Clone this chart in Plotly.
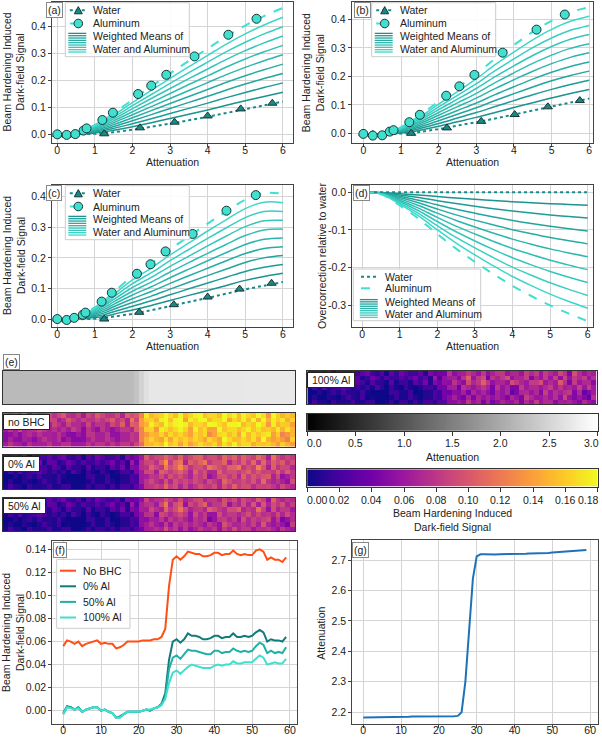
import numpy as np
import plotly.graph_objects as go

W, H = 602, 738
def px(x): return x / W
def py(y): return 1 - y / H

FONT = "Liberation Sans, Arial, sans-serif"
FS = 10.5
WATER_C = "#178a87"
AL_C = "#40e0d0"
MARK_LINE = "#1b3535"

# ---------------- data: panels (a)-(c) ----------------
X_CURVE = [0, 0.25, 0.5, 0.75, 1, 1.25, 1.5, 2, 2.5, 3, 3.5, 4, 4.5, 5, 5.5, 6]
WEIGHTS = [0.1, 0.2, 0.3, 0.4, 0.5, 0.6, 0.7, 0.8, 0.9]

A_WATER_CURVE = [0, -0.001, 0, 0.001, 0.002, 0.004, 0.008, 0.017, 0.028, 0.040, 0.052, 0.065, 0.079, 0.093, 0.107, 0.121]
A_AL_CURVE = [0, -0.003, 0.002, 0.018, 0.035, 0.055, 0.078, 0.128, 0.177, 0.225, 0.272, 0.317, 0.362, 0.402, 0.437, 0.467]
A_WATER_X = [0, 0.25, 1.25, 2.2, 3.12, 4.0, 4.88, 5.72]
A_WATER_Y = [0, -0.003, 0.002, 0.024, 0.045, 0.068, 0.094, 0.115]
A_AL_X = [0, 0.25, 0.48, 0.7, 0.78, 1.2, 1.48, 2.15, 2.5, 2.9, 3.65, 4.55, 5.3]
A_AL_Y = [0, -0.002, 0.001, 0.014, 0.022, 0.053, 0.080, 0.149, 0.180, 0.220, 0.288, 0.368, 0.427]

B_WATER_CURVE = [0, -0.003, -0.003, -0.002, -0.001, 0.001, 0.005, 0.015, 0.027, 0.039, 0.052, 0.066, 0.080, 0.094, 0.108, 0.122]
B_AL_CURVE = [0, -0.006, -0.006, 0.004, 0.022, 0.040, 0.063, 0.112, 0.160, 0.208, 0.262, 0.310, 0.356, 0.395, 0.425, 0.443]
B_WATER_X = [0, 0.25, 1.27, 2.22, 3.13, 4.02, 4.9, 5.75]
B_WATER_Y = [0, -0.004, 0.0, 0.019, 0.042, 0.066, 0.093, 0.115]
B_AL_X = [0, 0.25, 0.5, 0.7, 0.8, 1.22, 1.5, 2.2, 2.55, 2.95, 3.7, 4.6, 5.35]
B_AL_Y = [-0.002, -0.008, -0.007, 0.006, 0.011, 0.039, 0.065, 0.132, 0.165, 0.205, 0.283, 0.364, 0.417]

C_WATER_CURVE = [0, -0.002, -0.001, 0, 0.001, 0.003, 0.008, 0.017, 0.029, 0.042, 0.056, 0.069, 0.083, 0.097, 0.109, 0.121]
C_AL_CURVE = [0, -0.003, 0.004, 0.019, 0.038, 0.060, 0.088, 0.140, 0.182, 0.228, 0.270, 0.312, 0.352, 0.390, 0.412, 0.409]
C_WATER_X = [0, 0.25, 1.25, 2.18, 3.1, 4.0, 4.85, 5.7]
C_WATER_Y = [0, -0.003, 0.0, 0.022, 0.047, 0.072, 0.098, 0.117]
C_AL_X = [0, 0.25, 0.45, 0.68, 0.75, 1.18, 1.45, 2.12, 2.48, 2.88, 3.6, 4.5, 5.28]
C_AL_Y = [0, -0.003, 0.004, 0.014, 0.021, 0.057, 0.086, 0.148, 0.179, 0.221, 0.278, 0.354, 0.405]

# ---------------- data: panel (d) ----------------
D_X = [0, 0.5, 1, 1.5, 2, 2.5, 3, 3.5, 4, 4.5, 5, 5.5, 6]
D_WATER = [0, 0, 0, 0, 0, 0, 0, 0, 0, 0, 0, 0, 0]
D_AL = [0, -0.005, -0.035, -0.070, -0.111, -0.150, -0.185, -0.218, -0.249, -0.276, -0.301, -0.323, -0.343]

# ---------------- data: panels (f), (g), (e) ----------------
PIXEL = list(range(60))
NO_BHC = [0.056, 0.061, 0.060, 0.058, 0.060, 0.056, 0.058, 0.059, 0.060, 0.061,
          0.058, 0.059, 0.058, 0.058, 0.054, 0.055, 0.057, 0.060, 0.060, 0.060,
          0.060, 0.061, 0.061, 0.061, 0.062, 0.062, 0.064, 0.071, 0.108, 0.131,
          0.134, 0.131, 0.134, 0.138, 0.137, 0.136, 0.136, 0.134, 0.134, 0.135,
          0.137, 0.137, 0.135, 0.136, 0.136, 0.139, 0.136, 0.135, 0.136, 0.135,
          0.135, 0.139, 0.140, 0.138, 0.131, 0.133, 0.131, 0.131, 0.129, 0.133]
AL0 = [-0.002, 0.004, 0.003, 0.001, 0.003, -0.001, 0.001, 0.002, 0.003, 0.003,
       0.000, 0.001, -0.001, -0.002, -0.006, -0.005, -0.003, -0.001, -0.001, -0.001,
       -0.001, 0.000, 0.001, 0.000, 0.002, 0.003, 0.006, 0.015, 0.044, 0.060,
       0.062, 0.059, 0.062, 0.067, 0.065, 0.065, 0.064, 0.062, 0.062, 0.063,
       0.065, 0.065, 0.063, 0.064, 0.064, 0.067, 0.064, 0.064, 0.065, 0.064,
       0.065, 0.068, 0.070, 0.068, 0.060, 0.062, 0.061, 0.061, 0.060, 0.064]
AL50 = [-0.003, 0.003, 0.003, 0.001, 0.003, -0.001, 0.001, 0.002, 0.003, 0.003,
        0.000, 0.001, -0.001, -0.002, -0.006, -0.006, -0.003, -0.001, -0.001, -0.001,
        -0.001, 0.000, 0.001, 0.000, 0.002, 0.003, 0.005, 0.012, 0.036, 0.046,
        0.048, 0.045, 0.049, 0.053, 0.052, 0.052, 0.051, 0.050, 0.049, 0.049,
        0.052, 0.052, 0.050, 0.051, 0.051, 0.054, 0.052, 0.051, 0.052, 0.051,
        0.052, 0.056, 0.059, 0.057, 0.050, 0.052, 0.050, 0.051, 0.050, 0.055]
AL100 = [-0.003, 0.003, 0.002, 0.001, 0.002, -0.001, 0.001, 0.002, 0.003, 0.003,
         0.000, 0.001, -0.001, -0.002, -0.006, -0.006, -0.003, -0.001, -0.001, -0.001,
         -0.001, 0.000, 0.001, 0.001, 0.002, 0.003, 0.005, 0.010, 0.024, 0.033,
         0.035, 0.032, 0.035, 0.038, 0.040, 0.039, 0.038, 0.037, 0.037, 0.037,
         0.039, 0.040, 0.039, 0.040, 0.040, 0.043, 0.041, 0.041, 0.042, 0.042,
         0.042, 0.045, 0.048, 0.046, 0.040, 0.041, 0.042, 0.041, 0.041, 0.045]
ATTEN = [2.183, 2.183, 2.183, 2.184, 2.184, 2.184, 2.184, 2.184, 2.184, 2.185,
         2.185, 2.185, 2.185, 2.186, 2.186, 2.186, 2.185, 2.185, 2.186, 2.186,
         2.186, 2.186, 2.187, 2.187, 2.187, 2.188, 2.200, 2.300, 2.480, 2.640,
         2.712, 2.719, 2.719, 2.718, 2.718, 2.718, 2.719, 2.719, 2.719, 2.720,
         2.720, 2.720, 2.721, 2.721, 2.722, 2.722, 2.722, 2.722, 2.722, 2.723,
         2.725, 2.726, 2.727, 2.728, 2.729, 2.730, 2.731, 2.732, 2.733, 2.733]

# image pixels, read as: profile value + per-pixel level (0..8, 4 = none) * step + colour-read shift
RESID_ROWS = [
    "5454635445 4564453546 5445365546 4556546456 6455465646 5465375454",
    "4563454635 5346545445 4564537455 5468467365 6745563546 4636465645",
    "3544535443 5435443534 4354636554 6547568645 5476546674 5475364553",
    "3435344543 4343542432 4323443545 5365456536 4533645545 6454546464",
    "2232343433 3432232443 3422334343 4453545435 4523554536 4545635234",
    "2322332343 3423222343 3432334344 5435354545 4354365445 4536434325",
    "3433243334 3344333434 4343443434 4546453534 5445354645 5344543543",
]
RESID_STEP = 0.012
IMAGE_SHIFT = 0.018

# colour-bar ranges and ticks
ATT_CB_RANGE = [0, 3]
ATT_CB_TICKS = [0, 0.5, 1, 1.5, 2, 2.5, 3]
DF_CB_RANGE = [0, 0.18]
DF_CB_TICKS = [0, 0.02, 0.04, 0.06, 0.08, 0.10, 0.12, 0.14, 0.16, 0.18]

# ---------------- helpers ----------------
def hex2rgb(h):
    h = h.lstrip('#')
    return tuple(int(h[i:i + 2], 16) for i in (0, 2, 4))

def mix(c1, c2, t):
    a, b = hex2rgb(c1), hex2rgb(c2)
    return 'rgb(%d,%d,%d)' % tuple(round(a[i] + (b[i] - a[i]) * t) for i in range(3))

WM_COLORS = [mix(WATER_C, AL_C, w) for w in WEIGHTS]

fig = go.Figure()
lay = {}
shapes = []
annots = []

AX_COMMON = dict(showline=True, linecolor='#444', linewidth=1, mirror=True,
                 ticks='outside', ticklen=3, tickcolor='#444', showgrid=True,
                 gridcolor='#d4d4d4', gridwidth=1, zeroline=False,
                 tickfont=dict(size=FS, color='#222', family=FONT))
X_EXTRA = dict(ticklabelstandoff=-6)

def axis_pair(n, xl, xr, yt, yb, xo, yo):
    s = '' if n == 1 else str(n)
    lay['xaxis' + s] = dict(domain=[px(xl), px(xr)], anchor='y' + s, **xo)
    lay['yaxis' + s] = dict(domain=[py(yb), py(yt)], anchor='x' + s, **yo)
    return ('x' + s, 'y' + s)

def text(x, y, t, size=FS, xa='center', ya='middle', angle=0, xref='paper', xshift=0):
    annots.append(dict(xref=xref, yref='paper', x=(px(x) if xref == 'paper' else x), y=py(y), text=t,
                       showarrow=False, xanchor=xa, yanchor=ya, textangle=angle, xshift=xshift,
                       font=dict(size=size, color='#222', family=FONT)))

def boxed_label(x, y, t, border='#888', pad=1):
    annots.append(dict(xref='paper', yref='paper', x=px(x), y=py(y), text=t,
                       showarrow=False, xanchor='left', yanchor='top',
                       bgcolor='white', bordercolor=border, borderwidth=1, borderpad=pad,
                       font=dict(size=FS, color='#222', family=FONT)))

def leg_frame(x0, y0, x1, y1):
    shapes.append(dict(type='rect', xref='paper', yref='paper', x0=px(x0), x1=px(x1),
                       y0=py(y1), y1=py(y0), fillcolor='rgba(255,255,255,0.9)',
                       line=dict(color='#cccccc', width=1)))

def leg_line(xa, xb, y, color, dash='solid', width=1.8):
    shapes.append(dict(type='line', xref='paper', yref='paper', x0=px(xa), x1=px(xb),
                       y0=py(y), y1=py(y), line=dict(color=color, dash=dash, width=width)))

def leg_tri(xc, yc, s, fill):
    h = s * 0.45
    path = "M %f %f L %f %f L %f %f Z" % (px(xc - s / 2), py(yc + h), px(xc + s / 2), py(yc + h),
                                          px(xc), py(yc - h))
    shapes.append(dict(type='path', xref='paper', yref='paper', path=path,
                       fillcolor=fill, line=dict(color=MARK_LINE, width=1)))

def leg_circ(xc, yc, r, fill):
    shapes.append(dict(type='circle', xref='paper', yref='paper', x0=px(xc - r), x1=px(xc + r),
                       y0=py(yc + r), y1=py(yc - r), fillcolor=fill,
                       line=dict(color=MARK_LINE, width=1)))

def leg_stripes(x0, y0, x1, y1, colors):
    n = len(colors)
    for i, c in enumerate(colors):
        y = y0 + (y1 - y0) * (i + 0.5) / n
        shapes.append(dict(type='line', xref='paper', yref='paper', x0=px(x0), x1=px(x1),
                           y0=py(y), y1=py(y), line=dict(color=c, width=1.3)))

def curve_legend(bx, by, with_markers=True, wbox=124, hbox=54):
    leg_frame(bx, by, bx + wbox, by + hbox)
    r1, r2, r3, r4 = by + 7.5, by + 20.8, by + 33.5, by + 46.5
    la, lb, tx = bx + 4.5, bx + 21.5, bx + 26
    leg_line(la, lb, r1, WATER_C, 'dot', 2)
    leg_line(la, lb, r2, AL_C, 'dash', 2)
    if with_markers:
        leg_tri((la + lb) / 2, r1, 8, WATER_C)
        leg_circ((la + lb) / 2, r2, 4.3, AL_C)
    leg_stripes(la - 1.5, r3 - 4, lb - 0.5, r4 + 4, WM_COLORS)
    text(tx, r1, 'Water', xa='left')
    text(tx, r2, 'Aluminum', xa='left')
    text(tx, r3, 'Weighted Means of', xa='left')
    text(tx, r4, 'Water and Aluminum', xa='left')

# ---------------- panels (a)-(c) ----------------
def curve_panel(n, box, xr, yr, wc, ac, wx, wy, axx, axy, label, label_x, leg_xy):
    xl, xrr, yt, yb = box
    xa, ya = axis_pair(n, xl, xrr, yt, yb,
                       dict(range=xr, tickvals=[0, 1, 2, 3, 4, 5, 6], **AX_COMMON, **X_EXTRA),
                       dict(range=yr, tickvals=[0, 0.1, 0.2, 0.3, 0.4], tickformat='.1f', **AX_COMMON))
    for w, col in zip(WEIGHTS, WM_COLORS):
        ym = [w * a + (1 - w) * b for a, b in zip(ac, wc)]
        fig.add_trace(go.Scatter(x=X_CURVE, y=ym, mode='lines', line=dict(color=col, width=1.5, shape='spline'),
                                 xaxis=xa, yaxis=ya, showlegend=False))
    fig.add_trace(go.Scatter(x=X_CURVE, y=wc, mode='lines', line=dict(color=WATER_C, width=2, dash='dot', shape='spline'),
                             xaxis=xa, yaxis=ya, showlegend=False))
    fig.add_trace(go.Scatter(x=X_CURVE, y=ac, mode='lines', line=dict(color=AL_C, width=2, dash='dash', shape='spline'),
                             xaxis=xa, yaxis=ya, showlegend=False))
    fig.add_trace(go.Scatter(x=wx, y=wy, mode='markers', marker=dict(symbol='triangle-up', size=8, color=WATER_C,
                             line=dict(color=MARK_LINE, width=1)), xaxis=xa, yaxis=ya, showlegend=False))
    fig.add_trace(go.Scatter(x=axx, y=axy, mode='markers', marker=dict(symbol='circle', size=9, color=AL_C,
                             line=dict(color=MARK_LINE, width=1)), xaxis=xa, yaxis=ya, showlegend=False))
    curve_legend(*leg_xy)
    boxed_label(label_x, yt + 0.5, label)
    text(xl - 38, (yt + yb) / 2, 'Beam Hardening Induced<br>Dark-field Signal', angle=-90)
    text((xl + xrr) / 2, yb + 19, 'Attenuation')

curve_panel(1, (52, 293, 2, 143), [-0.14, 6.27], [-0.032, 0.489], A_WATER_CURVE, A_AL_CURVE,
            A_WATER_X, A_WATER_Y, A_AL_X, A_AL_Y, '(a)', 46, (65.3, 2.7))
curve_panel(2, (351.7, 593, 2, 143), [-0.31, 6.1], [-0.034, 0.461], B_WATER_CURVE, B_AL_CURVE,
            B_WATER_X, B_WATER_Y, B_AL_X, B_AL_Y, '(b)', 354, (371.7, 2.7))
curve_panel(3, (52, 293, 185, 327), [-0.14, 6.27], [-0.026, 0.438], C_WATER_CURVE, C_AL_CURVE,
            C_WATER_X, C_WATER_Y, C_AL_X, C_AL_Y, '(c)', 46, (65.3, 185.7))

# ---------------- panel (d) ----------------
xd, yd = axis_pair(4, 352.3, 593, 185, 327,
                   dict(range=[-0.26, 6.14], tickvals=[0, 1, 2, 3, 4, 5, 6], **AX_COMMON, **X_EXTRA),
                   dict(range=[-0.3585, 0.0195], tickmode='array', tickvals=[0, -0.1, -0.2, -0.3],
                        ticktext=['0.0', '-0.1', '-0.2', '-0.3'], **AX_COMMON))
for w, col in zip(WEIGHTS, WM_COLORS):
    fig.add_trace(go.Scatter(x=D_X, y=[w * v for v in D_AL], mode='lines',
                             line=dict(color=col, width=1.5, shape='spline'), xaxis=xd, yaxis=yd, showlegend=False))
fig.add_trace(go.Scatter(x=D_X, y=D_WATER, mode='lines', line=dict(color=WATER_C, width=2, dash='dot'),
                         xaxis=xd, yaxis=yd, showlegend=False))
fig.add_trace(go.Scatter(x=D_X, y=D_AL, mode='lines', line=dict(color=AL_C, width=2, dash='dash', shape='spline'),
                         xaxis=xd, yaxis=yd, showlegend=False))
bx, by = 353.3, 269
leg_frame(bx, by, bx + 127.4, by + 51.7)
for (yy, col, dsh) in [(by + 7.7, WATER_C, 'dot'), (by + 19.3, AL_C, 'dash')]:
    leg_line(bx + 7.7, bx + 24, yy, col, dsh, 2)
leg_stripes(bx + 6.5, by + 29.5, bx + 24.5, by + 49.5, WM_COLORS)
text(bx + 30, by + 7.7, 'Water', xa='left')
text(bx + 30, by + 19.3, 'Aluminum', xa='left')
text(bx + 30, by + 32.7, 'Weighted Means of', xa='left')
text(bx + 30, by + 45.3, 'Water and Aluminum', xa='left')
boxed_label(353, 185.5, '(d)')
text(322, 256, 'Overcorrection relative to water', angle=-90)
text(472.6, 346, 'Attenuation')

# ---------------- panel (e): images ----------------
def resid_grid():
    rows = []
    for s in RESID_ROWS:
        s = (s.replace(' ', '') + '4' * 60)[:60]
        rows.append([(int(ch) - 4) * RESID_STEP for ch in s])
    return rows

RES = resid_grid()
HM_AX = dict(showline=True, linecolor='#333', linewidth=1, mirror=True, ticks='',
             showticklabels=False, showgrid=False, zeroline=False)

xg, yg = axis_pair(5, 3, 295, 371, 404, dict(range=[-0.5, 59.5], **HM_AX), dict(range=[-0.5, 0.5], **HM_AX))
fig.add_trace(go.Heatmap(z=[ATTEN], x=PIXEL, y=[0], coloraxis='coloraxis2', xaxis=xg, yaxis=yg))

images = [(6, (3, 295, 412.7, 446.7), NO_BHC, 'no BHC'),
          (7, (3, 295, 455, 489.3), AL0, '0% Al'),
          (8, (3, 295, 497.5, 531.3), AL50, '50% Al'),
          (9, (307.3, 596.7, 370.7, 404.3), AL100, '100% Al')]
for n, (l, r, t, b), prof, lab in images:
    xa, ya = axis_pair(n, l, r, t, b, dict(range=[-0.5, 59.5], **HM_AX),
                       dict(range=[6.5, -0.5], **HM_AX))
    z = [[prof[j] + RES[i][j] + IMAGE_SHIFT for j in range(60)] for i in range(7)]
    fig.add_trace(go.Heatmap(z=z, x=PIXEL, y=list(range(7)), coloraxis='coloraxis', xaxis=xa, yaxis=ya))
    boxed_label(l, t + 0.8, '&nbsp;' + lab + '&nbsp;', border='#222')
boxed_label(3, 354, '(e)')

# colour bars drawn as gradient strips on their own axes; tick labels placed on the axis scale
CB_AX_X = dict(showline=True, linecolor='#333', linewidth=1, mirror=True, ticks='outside', ticklen=4,
               tickcolor='#333', showgrid=False, zeroline=False, showticklabels=False)
CB_AX_Y = dict(showline=True, linecolor='#333', linewidth=1, mirror=True, ticks='',
               showticklabels=False, showgrid=False, zeroline=False, range=[-0.5, 0.5])

def colorbar_strip(n, rng, ticks, fmt, box, cax, label_y):
    l, r, t, b = box
    steps = np.linspace(rng[0], rng[1], 300)
    xa, ya = axis_pair(n, l, r, t, b, dict(range=rng, tickvals=ticks, **CB_AX_X), CB_AX_Y)
    fig.add_trace(go.Heatmap(z=[steps], x=steps, y=[0], coloraxis=cax, xaxis=xa, yaxis=ya))
    for k, v in enumerate(ticks):
        if k == 0:
            text(v, label_y, fmt % v, xa='left', xref=xa, xshift=-2)
        elif k == len(ticks) - 1:
            text(v, label_y, fmt % v, xa='right', xref=xa, xshift=3)
        else:
            text(v, label_y, fmt % v, xa='center', xref=xa)

colorbar_strip(12, ATT_CB_RANGE, ATT_CB_TICKS, '%.1f', (307.3, 597.5, 414, 430.7), 'coloraxis2', 443)
colorbar_strip(13, DF_CB_RANGE, DF_CB_TICKS, '%.2f', (307.3, 597.5, 469.3, 486.7), 'coloraxis', 499.5)
text(452, 456.7, 'Attenuation')
text(452, 513, 'Beam Hardening Induced')
text(452, 527, 'Dark-field Signal')

lay['coloraxis'] = dict(colorscale='Plasma', cmin=DF_CB_RANGE[0], cmax=DF_CB_RANGE[1], showscale=False)
lay['coloraxis2'] = dict(colorscale=[[0, 'black'], [1, 'white']], cmin=ATT_CB_RANGE[0],
                         cmax=ATT_CB_RANGE[1], showscale=False)

# ---------------- panel (f) ----------------
xf, yf = axis_pair(10, 52.3, 296.7, 540.7, 723.5,
                   dict(range=[-2.9, 61.8], tickvals=[0, 10, 20, 30, 40, 50, 60], **AX_COMMON, **X_EXTRA),
                   dict(range=[-0.0111, 0.1475], tickvals=[0, 0.02, 0.04, 0.06, 0.08, 0.10, 0.12, 0.14],
                        tickformat='.2f', **AX_COMMON))
F_SERIES = [('No BHC', NO_BHC, '#ff4f14'), ('0% Al', AL0, '#117c79'),
            ('50% Al', AL50, '#20b0a8'), ('100% Al', AL100, '#40e0d0')]
for name, ys, col in F_SERIES:
    fig.add_trace(go.Scatter(x=PIXEL, y=ys, mode='lines', line=dict(color=col, width=2), name=name,
                             xaxis=xf, yaxis=yf, showlegend=False))
bx, by = 56.7, 559.3
leg_frame(bx, by, 130, 628.3)
for k, (name, ys, col) in enumerate(F_SERIES):
    yy = by + 11.4 + k * 15.6
    leg_line(bx + 3.3, bx + 19.3, yy, col, 'solid', 2)
    text(bx + 24.3, yy, name, xa='left')
boxed_label(53, 541.5, '(f)')
text(13, 633, 'Beam Hardening Induced<br>Dark-field Signal', angle=-90)

# ---------------- panel (g) ----------------
xgg, ygg = axis_pair(11, 352.3, 597.7, 540, 723.5,
                     dict(range=[-2.9, 62.0], tickvals=[0, 10, 20, 30, 40, 50, 60], **AX_COMMON, **X_EXTRA),
                     dict(range=[2.163, 2.766], tickvals=[2.2, 2.3, 2.4, 2.5, 2.6, 2.7],
                          tickformat='.1f', **AX_COMMON))
fig.add_trace(go.Scatter(x=PIXEL, y=ATTEN, mode='lines', line=dict(color='#1f72b8', width=2),
                         xaxis=xgg, yaxis=ygg, showlegend=False))
boxed_label(352, 541.5, '(g)')
text(320.7, 633, 'Attenuation', angle=-90)

lay.update(dict(width=W, height=H, margin=dict(l=0, r=0, t=0, b=0, pad=0, autoexpand=False),
                showlegend=False, paper_bgcolor='white', plot_bgcolor='white',
                font=dict(family=FONT, size=FS, color='#222'),
                shapes=shapes, annotations=annots))
fig.update_layout(**lay)
fig.write_html("out.html")
